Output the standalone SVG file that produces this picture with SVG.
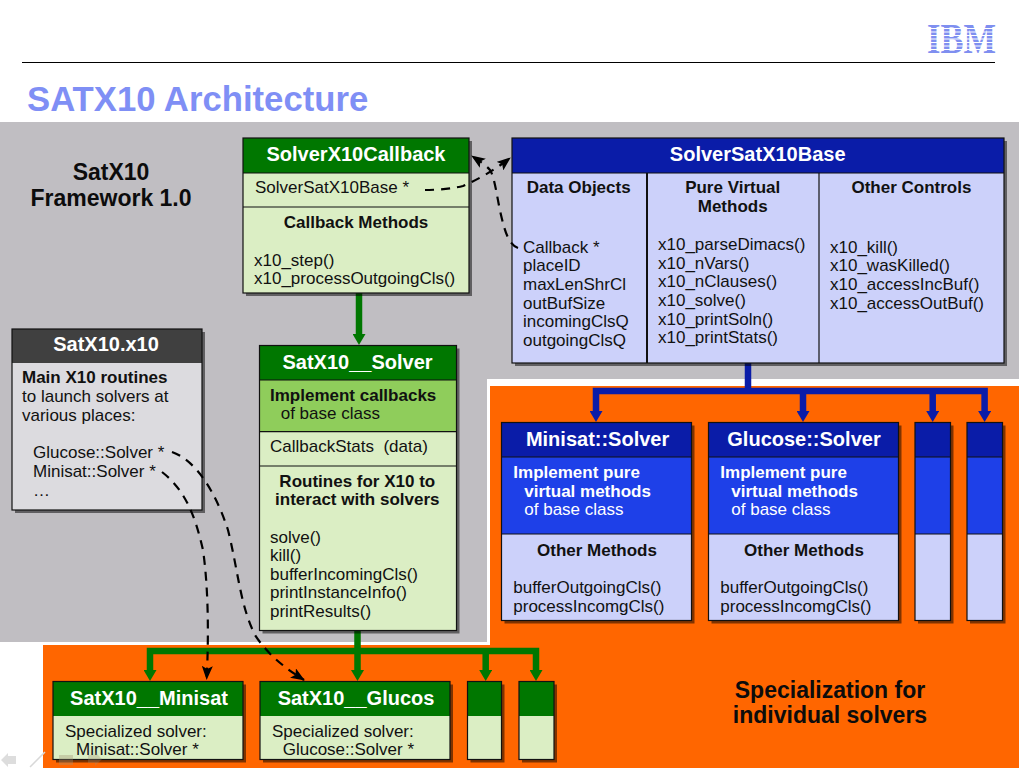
<svg xmlns="http://www.w3.org/2000/svg" width="1019" height="768" viewBox="0 0 1019 768">
<style>
text{font-family:"Liberation Sans",Arial,sans-serif;font-size:17px;fill:#111}
.b{font-weight:bold}
.c{text-anchor:middle}
.h{font-weight:bold;font-size:20px;fill:#fff;text-anchor:middle}
.w{fill:#fff}
.big{font-weight:bold;font-size:23px;text-anchor:middle;fill:#0c0c0c}
.s{fill:#000;opacity:.5}
.o{fill:none;stroke:#111;stroke-width:1.2}
.gh{fill:#007700}.gl{fill:#dbeec4}.gm{fill:#8fcd5b}
.bh{fill:#0a1ca8}.bm{fill:#1e40e8}.bl{fill:#ccd1fa}
.dh{fill:#404040}.dl{fill:#dcdbdf}
.d{stroke:#111;stroke-width:1.2;fill:none}
.gc{stroke:#007700;stroke-width:6.5;fill:none}
.bc{stroke:#0a1ca8;stroke-width:6.5;fill:none}
.dash{stroke:#000;stroke-width:2.2;stroke-dasharray:9 7;fill:none}
</style>
<defs>
<marker id="ag" markerUnits="userSpaceOnUse" markerWidth="11" markerHeight="13" refX="1" refY="6.5" orient="auto"><path d="M0,0L11,6.5L0,13z" fill="#007700"/></marker>
<marker id="ab" markerUnits="userSpaceOnUse" markerWidth="11" markerHeight="13" refX="1" refY="6.5" orient="auto"><path d="M0,0L11,6.5L0,13z" fill="#0a1ca8"/></marker>
<marker id="ad" markerUnits="userSpaceOnUse" markerWidth="14" markerHeight="11" refX="13" refY="5.5" orient="auto"><path d="M0,0L14,5.5L0,11L3,5.5z" fill="#000"/></marker>
</defs>
<rect width="1019" height="768" fill="#fff"/>
<g id="background">
<rect x="0" y="122" width="1019" height="520" fill="#c0bec2"/>
<rect x="487" y="379" width="532" height="389" fill="#fff"/>
<rect x="0" y="642" width="487" height="126" fill="#fff"/>
<rect x="43" y="645" width="447" height="123" fill="#ff6600"/>
<rect x="490" y="386" width="529" height="382" fill="#ff6600"/>
</g>
<g id="page-header">
<line x1="22" y1="62.5" x2="995" y2="62.5" stroke="#000" stroke-width="1"/>
<text x="27" y="111" class="b" style="font-size:34.7px;fill:#7f8ff5">SATX10 Architecture</text>
<text transform="translate(961.5,53) scale(.82,1)" class="c" style="font-family:'Liberation Serif',serif;font-weight:bold;font-size:42px;fill:#7f8ff0">IBM</text>
<g stroke="#fff" stroke-width="1.2"><line x1="925" y1="28.5" x2="998" y2="28.5"/><line x1="925" y1="32" x2="998" y2="32"/><line x1="925" y1="35.5" x2="998" y2="35.5"/><line x1="925" y1="39" x2="998" y2="39"/><line x1="925" y1="42.5" x2="998" y2="42.5"/><line x1="925" y1="46" x2="998" y2="46"/><line x1="925" y1="49.5" x2="998" y2="49.5"/></g>
</g>
<text x="111" y="180" class="big">SatX10</text>
<text x="111" y="205.6" class="big">Framework 1.0</text>
<text x="830" y="698.3" class="big">Specialization for</text>
<text x="830" y="723.3" class="big">individual solvers</text>

<g id="connectors">
<path class="gc" d="M359,293V335" marker-end="url(#ag)"/>
<path class="gc" d="M357.5,631V651M150,671V651H536V671M357.5,651V671M485.7,651V671"/>
<path d="M150,670L150,671" class="gc" marker-end="url(#ag)"/>
<path d="M357.5,670L357.5,671" class="gc" marker-end="url(#ag)"/>
<path d="M485.7,670L485.7,671" class="gc" marker-end="url(#ag)"/>
<path d="M536,670L536,671" class="gc" marker-end="url(#ag)"/>
<path class="bc" d="M748,363V391M596,412V391H984.6V412M803,391V412M932.7,391V412"/>
<path d="M596,411L596,412" class="bc" marker-end="url(#ab)"/>
<path d="M803,411L803,412" class="bc" marker-end="url(#ab)"/>
<path d="M932.7,411L932.7,412" class="bc" marker-end="url(#ab)"/>
<path d="M984.6,411L984.6,412" class="bc" marker-end="url(#ab)"/>
</g>

<g id="SolverX10Callback">
<rect class="s" x="246" y="141" width="226" height="155"/>
<rect class="gl" x="243" y="138" width="226" height="155"/>
<rect class="gh" x="243" y="138" width="226" height="35"/>
<rect class="o" x="243" y="138" width="226" height="155"/>
<path class="d" d="M243,173H469M243,207H469"/>
<text x="356" y="161" class="h">SolverX10Callback</text>
<text x="255" y="193">SolverSatX10Base *</text>
<text x="356" y="227.7" class="b c">Callback Methods</text>
<text x="254" y="265.7">x10_step()</text>
<text x="254" y="283.7">x10_processOutgoingCls()</text>
</g>

<g id="SolverSatX10Base">
<rect class="s" x="515" y="141" width="492" height="225"/>
<rect class="bl" x="512" y="138" width="492" height="225"/>
<rect class="bh" x="512" y="138" width="492" height="35"/>
<rect class="o" x="512" y="138" width="492" height="225"/>
<path class="d" d="M512,173H1004"/>
<path d="M647,173V363" stroke="#111" stroke-width="2"/>
<path class="d" d="M819,173V363"/>
<text x="757.7" y="161" class="h">SolverSatX10Base</text>
<text x="578.7" y="193" class="b c">Data Objects</text>
<text x="732.7" y="193" class="b c">Pure Virtual</text>
<text x="732.7" y="212" class="b c">Methods</text>
<text x="911.4" y="193" class="b c">Other Controls</text>
<text x="523" y="252.5">Callback *</text>
<text x="523" y="271">placeID</text>
<text x="523" y="289.7">maxLenShrCl</text>
<text x="523" y="308.5">outBufSize</text>
<text x="523" y="327">incomingClsQ</text>
<text x="523" y="345.7">outgoingClsQ</text>
<text x="658" y="250">x10_parseDimacs()</text>
<text x="658" y="268.7">x10_nVars()</text>
<text x="658" y="287.3">x10_nClauses()</text>
<text x="658" y="306">x10_solve()</text>
<text x="658" y="324.7">x10_printSoln()</text>
<text x="658" y="343.3">x10_printStats()</text>
<text x="830" y="252.5">x10_kill()</text>
<text x="830" y="271">x10_wasKilled()</text>
<text x="830" y="289.7">x10_accessIncBuf()</text>
<text x="830" y="308.5">x10_accessOutBuf()</text>
</g>

<g id="SatX10_x10">
<rect class="s" x="15" y="332" width="190" height="181"/>
<rect class="dl" x="12" y="329" width="190" height="181"/>
<rect class="dh" x="12" y="329" width="190" height="34"/>
<rect class="o" x="12" y="329" width="190" height="181"/>
<text x="106" y="351" class="h">SatX10.x10</text>
<text x="22" y="383.3" class="b">Main X10 routines</text>
<text x="22" y="402">to launch solvers at</text>
<text x="22" y="420.7">various places:</text>
<text x="33" y="457.7">Glucose::Solver *</text>
<text x="33" y="476.7">Minisat::Solver *</text>
<text x="33" y="495.7">…</text>
</g>

<g id="SatX10__Solver">
<rect class="s" x="262.5" y="348.5" width="197" height="285"/>
<rect class="gl" x="259.5" y="345.5" width="197" height="285"/>
<rect class="gm" x="259.5" y="380" width="197" height="51.7"/>
<rect class="gh" x="259.5" y="345.5" width="197" height="34.5"/>
<rect class="o" x="259.5" y="345.5" width="197" height="285"/>
<path class="d" d="M259.5,380H456.5M259.5,431.7H456.5M259.5,466H456.5"/>
<text x="357.5" y="368.7" class="h">SatX10__Solver</text>
<text x="270" y="400.7" class="b">Implement callbacks</text>
<text x="280.7" y="419.3">of base class</text>
<text x="270" y="452.3" xml:space="preserve">CallbackStats  (data)</text>
<text x="357.3" y="486.7" class="b c">Routines for X10 to</text>
<text x="357.3" y="505.3" class="b c">interact with solvers</text>
<text x="270" y="542.7">solve()</text>
<text x="270" y="561.3">kill()</text>
<text x="270" y="580">bufferIncomingCls()</text>
<text x="270" y="598.4">printInstanceInfo()</text>
<text x="270" y="617">printResults()</text>
</g>

<g id="Minisat_Solver">
<rect class="s" x="504.5" y="425.5" width="190" height="198"/>
<rect class="bl" x="501.5" y="422.5" width="190" height="198"/>
<rect class="bm" x="501.5" y="457" width="190" height="77"/>
<rect class="bh" x="501.5" y="422.5" width="190" height="34.5"/>
<rect class="o" x="501.5" y="422.5" width="190" height="198"/>
<path class="d" d="M501.5,457H691.5M501.5,534H691.5"/>
<text x="597.6" y="445.7" class="h">Minisat::Solver</text>
<text x="513.3" y="478" class="b w">Implement pure</text>
<text x="524.3" y="496.7" class="b w">virtual methods</text>
<text x="524.3" y="515" class="w">of base class</text>
<text x="597" y="555.7" class="b c">Other Methods</text>
<text x="513.3" y="593.3">bufferOutgoingCls()</text>
<text x="513.3" y="611.7">processIncomgCls()</text>
</g>

<g id="Glucose_Solver">
<rect class="s" x="711.5" y="425.5" width="190" height="198"/>
<rect class="bl" x="708.5" y="422.5" width="190" height="198"/>
<rect class="bm" x="708.5" y="457" width="190" height="77"/>
<rect class="bh" x="708.5" y="422.5" width="190" height="34.5"/>
<rect class="o" x="708.5" y="422.5" width="190" height="198"/>
<path class="d" d="M708.5,457H898.5M708.5,534H898.5"/>
<text x="804" y="445.7" class="h">Glucose::Solver</text>
<text x="720.3" y="478" class="b w">Implement pure</text>
<text x="731.3" y="496.7" class="b w">virtual methods</text>
<text x="731.3" y="515" class="w">of base class</text>
<text x="804" y="555.7" class="b c">Other Methods</text>
<text x="720.3" y="593.3">bufferOutgoingCls()</text>
<text x="720.3" y="611.7">processIncomgCls()</text>
</g>

<g id="blue-solver-3">
<rect class="s" x="918" y="425.5" width="35.5" height="198"/>
<rect class="bl" x="915" y="422.5" width="35.5" height="198"/>
<rect class="bm" x="915" y="457" width="35.5" height="77"/>
<rect class="bh" x="915" y="422.5" width="35.5" height="34.5"/>
<rect class="o" x="915" y="422.5" width="35.5" height="198"/>
<path class="d" d="M915,457H950.5M915,534H950.5"/>
</g>
<g id="blue-solver-4">
<rect class="s" x="970" y="425.5" width="35.5" height="198"/>
<rect class="bl" x="967" y="422.5" width="35.5" height="198"/>
<rect class="bm" x="967" y="457" width="35.5" height="77"/>
<rect class="bh" x="967" y="422.5" width="35.5" height="34.5"/>
<rect class="o" x="967" y="422.5" width="35.5" height="198"/>
<path class="d" d="M967,457H1002.5M967,534H1002.5"/>
</g>

<g id="SatX10__Minisat">
<rect class="s" x="56" y="684.5" width="190" height="78"/>
<rect class="gl" x="53" y="681.5" width="190" height="78"/>
<rect class="gh" x="53" y="681.5" width="190" height="34.5"/>
<rect class="o" x="53" y="681.5" width="190" height="78"/>
<text x="149" y="704.7" class="h">SatX10__Minisat</text>
<text x="65" y="736.7">Specialized solver:</text>
<text x="76" y="755.3">Minisat::Solver *</text>
</g>
<g id="SatX10__Glucos">
<rect class="s" x="263" y="684.5" width="190" height="78"/>
<rect class="gl" x="260" y="681.5" width="190" height="78"/>
<rect class="gh" x="260" y="681.5" width="190" height="34.5"/>
<rect class="o" x="260" y="681.5" width="190" height="78"/>
<text x="356" y="704.7" class="h">SatX10__Glucos</text>
<text x="272" y="736.7">Specialized solver:</text>
<text x="282.7" y="755.3">Glucose::Solver *</text>
</g>
<g id="green-solver-3">
<rect class="s" x="470.5" y="684.5" width="34" height="78"/>
<rect class="gl" x="467.5" y="681.5" width="34" height="78"/>
<rect class="gh" x="467.5" y="681.5" width="34" height="34.5"/>
<rect class="o" x="467.5" y="681.5" width="34" height="78"/>
</g>
<g id="green-solver-4">
<rect class="s" x="522" y="684.5" width="35" height="78"/>
<rect class="gl" x="519" y="681.5" width="35" height="78"/>
<rect class="gh" x="519" y="681.5" width="35" height="34.5"/>
<rect class="o" x="519" y="681.5" width="35" height="78"/>
</g>

<g id="nav-icons">
<path d="M1,760L8,753V756H16V764H8V767z" fill="#dddddd"/>
<path d="M30,767L45,752" fill="none" stroke="#d8d8d8" stroke-width="1.5"/>
<rect x="59" y="755" width="14" height="10" fill="#a09070" opacity=".35"/>
<path d="M88,755H95V752L102,759L95,766V763H88z" fill="#a09070" opacity=".3"/>
</g>

<g id="dashed-connectors">
<path class="dash" d="M425,190C440,190 455,188 463,186C475,181 495,170 510,158" marker-end="url(#ad)"/>
<path class="dash" d="M518,248C509,245 505,232 501,215C497,198 495,178 490,170C486,165 478,160 472,156" marker-end="url(#ad)"/>
<path class="dash" d="M172,452C195,460 215,490 228,530C238,570 240,605 255,635C268,655 285,668 304,680" marker-end="url(#ad)"/>
<path class="dash" d="M162,472C185,490 195,515 203,550C208,585 209,630 206.7,679" marker-end="url(#ad)"/>
</g>
</svg>
